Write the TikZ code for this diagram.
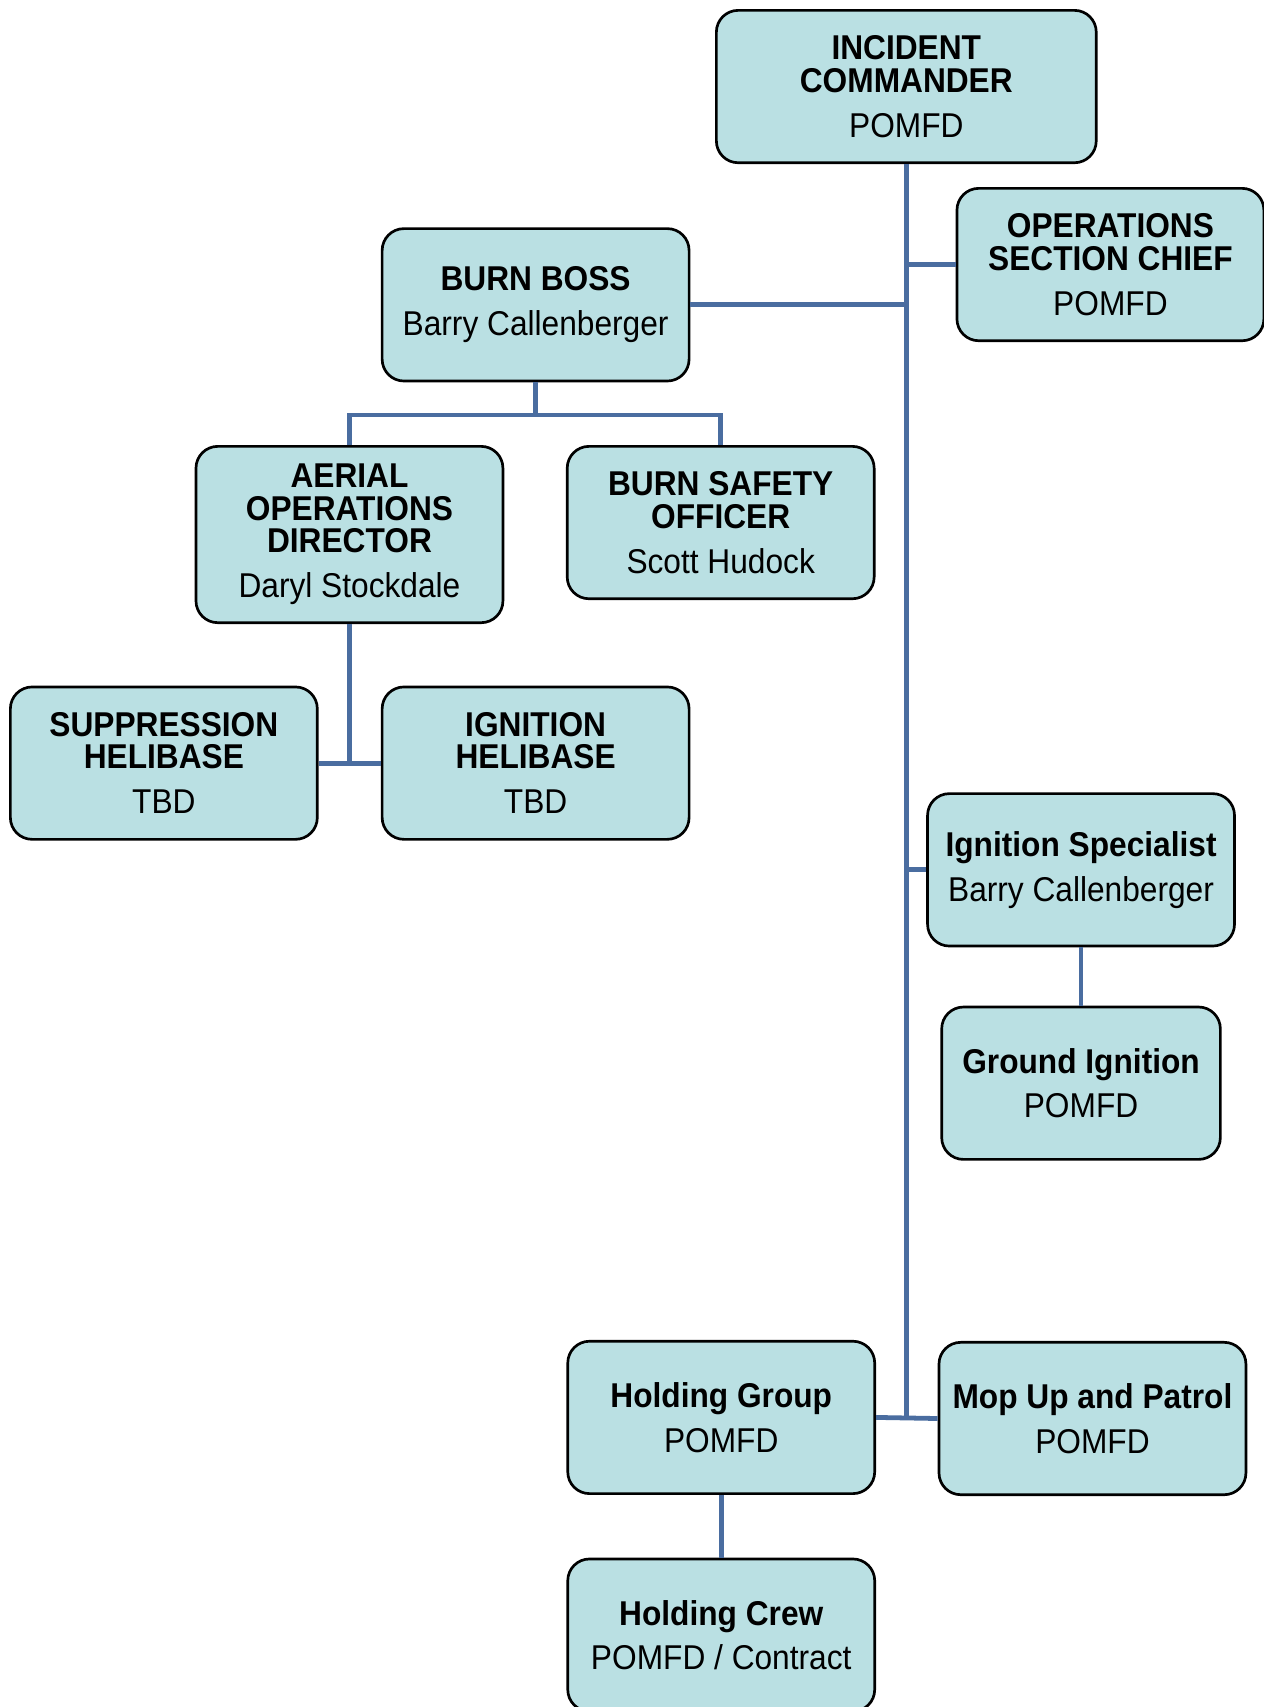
\documentclass[tikz,border=0pt]{standalone}
\usepackage{fontspec}
\setmainfont[FakeStretch=0.92]{Liberation Sans}
\usepackage{tikz}
\usetikzlibrary{positioning}

\definecolor{boxfill}{HTML}{BAE0E3}
\definecolor{linkblue}{HTML}{4A6DA0}

\begin{document}
\begin{tikzpicture}[
        x=0.02cm, y=-0.02cm,
        every node/.style={anchor=center},
        role/.style={draw=black, line width=1.4pt, fill=boxfill, rounded corners=0.4cm,
            minimum width=5.64cm, minimum height=2.8cm, inner sep=0pt, align=center,
            font=\fontsize{18pt}{17pt}\selectfont},
        link/.style={draw=linkblue, line width=2.5pt}
    ]

    \useasboundingbox (0,0) rectangle (1161,1568);

    % Boxes
    \node[role, minimum width=6.98cm] (ic) at (832.5,79.5)
        {\textbf{INCIDENT}\\\textbf{COMMANDER}\\[6.5pt]POMFD};
    \node[role] (osc) at (1020,243)
        {\textbf{OPERATIONS}\\\textbf{SECTION CHIEF}\\[6.5pt]POMFD};
    \node[role] (bb) at (492,280)
        {\textbf{BURN BOSS}\\[6.5pt]Barry Callenberger};
    \node[role, minimum height=3.24cm] (aod) at (321,491)
        {\textbf{AERIAL}\\\textbf{OPERATIONS}\\\textbf{DIRECTOR}\\[6.5pt]Daryl Stockdale};
    \node[role] (bso) at (662,480)
        {\textbf{BURN SAFETY}\\\textbf{OFFICER}\\[6.5pt]Scott Hudock};
    \node[role] (sh) at (150.5,701)
        {\textbf{SUPPRESSION}\\\textbf{HELIBASE}\\[6.5pt]TBD};
    \node[role] (ih) at (492,701)
        {\textbf{IGNITION}\\\textbf{HELIBASE}\\[6.5pt]TBD};
    \node[role] (is) at (993,799)
        {\textbf{Ignition Specialist}\\[6.5pt]Barry Callenberger};
    \node[role, minimum width=5.12cm] (gi) at (993,995)
        {\textbf{Ground Ignition}\\[6.5pt]POMFD};
    \node[role] (hg) at (662.5,1302)
        {\textbf{Holding Group}\\[6.5pt]POMFD};
    \node[role] (mup) at (1003.5,1303)
        {\textbf{Mop Up and Patrol}\\[6.5pt]POMFD};
    \node[role] (hc) at (662.5,1502)
        {\textbf{Holding Crew}\\[6.5pt]POMFD / Contract};

    % Lines
    \path[link] (ic.south) -- (ic.south |- hg.east);
    \path[link] (osc.west) -- (osc.west -| ic.south);
    \path[link] (bb.east) -- (bb.east -| ic.south);
    \path[link] (is.west) -- (is.west -| ic.south);
    \path[link] (hg.east) -- (mup.west);
    \path[link] (bb.south) -- +(0,30) coordinate (bbfork);
    \path[link] (aod.north) |- (bbfork) -| (bso.north);
    \path[link] (aod.south) -- (aod.south |- ih.west);
    \path[link] (sh.east) -- (ih.west);
    \path[link] (is.south) -- (gi.north);
    \path[link] (hg.south) -- (hc.north);

\end{tikzpicture}
\end{document}
